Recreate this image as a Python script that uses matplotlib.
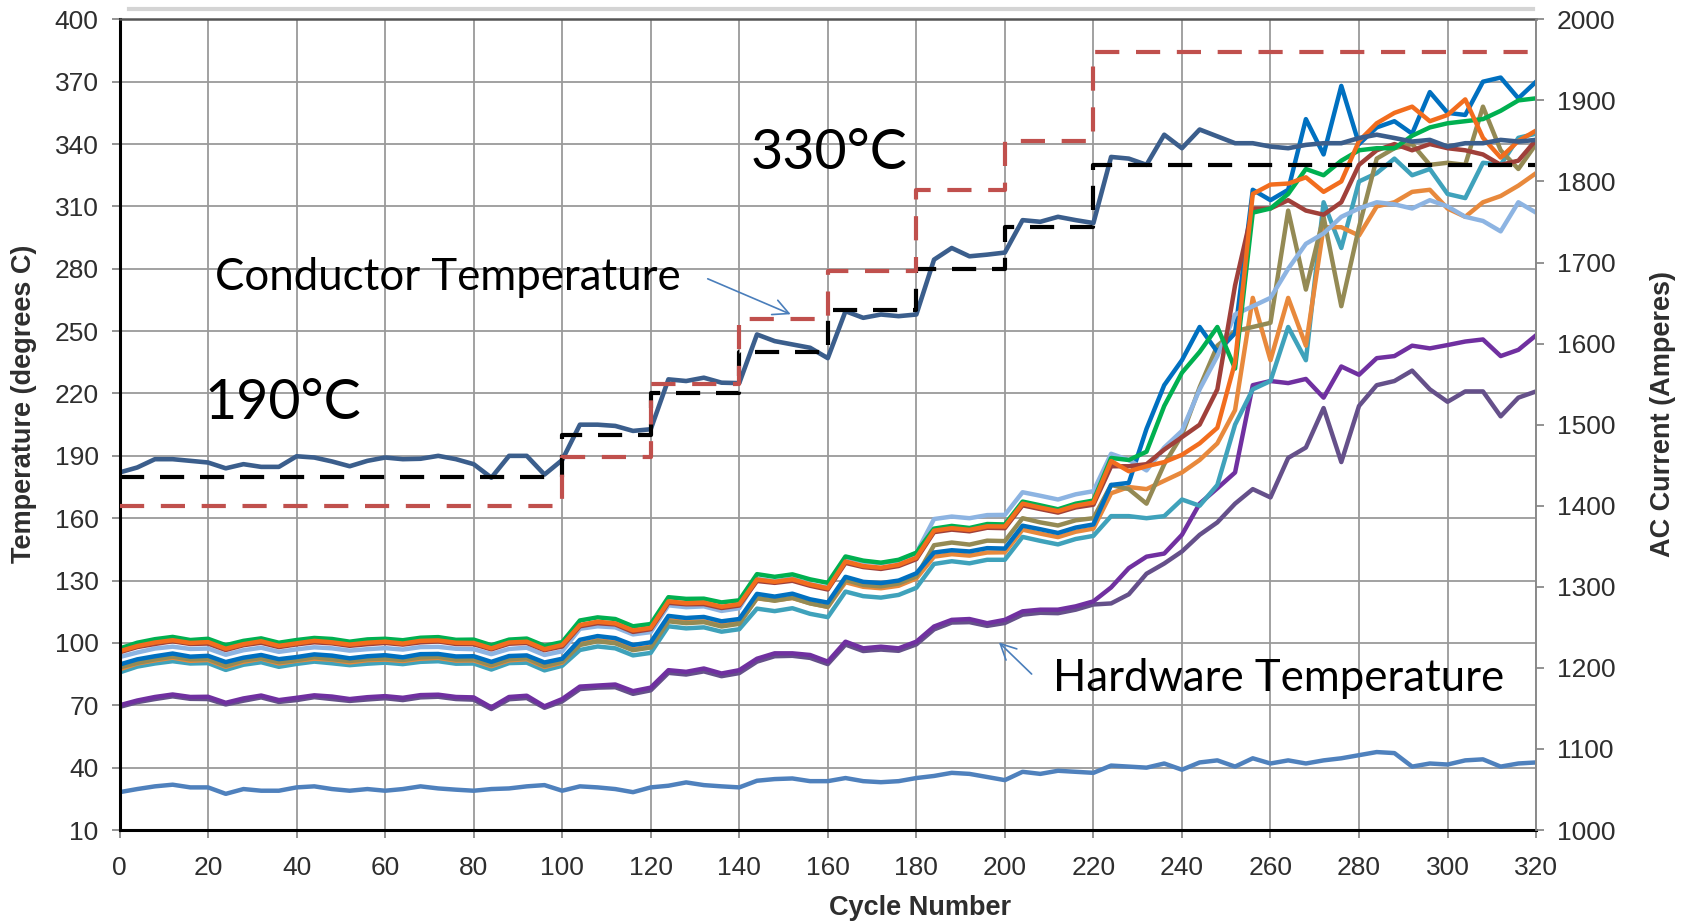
import matplotlib
matplotlib.use('Agg')
import matplotlib.pyplot as plt
from matplotlib.lines import Line2D

plt.rcParams['font.family'] = ['Liberation Sans', 'DejaVu Sans']

# cycle grid shared by every temperature trace
cycles = list(range(0, 321, 4))

# set points: target conductor temperature (deg C) and applied AC current (A)
step_edges = [0, 100, 120, 140, 160, 180, 200, 220, 320]
target_temp = [180, 200, 220, 240, 260, 280, 300, 330]
ac_current = [1400, 1460, 1550, 1630, 1690, 1790, 1850, 1960]

conductor = [182.0, 184.4, 188.4, 188.4, 187.6, 186.8, 184.0, 186.0, 184.7, 184.7,
             189.8, 189.2, 187.3, 185.0, 187.6, 189.2, 188.4, 188.6, 190.0, 188.4,
             186.0, 179.5, 190.0, 190.0, 181.0, 188.0, 205.0, 205.0, 204.4, 202.0,
             202.8, 226.8, 226.0, 227.6, 225.2, 225.0, 248.4, 245.2, 243.6, 242.0,
             237.0, 259.6, 256.4, 258.0, 257.2, 258.0, 284.4, 290.0, 286.0, 286.8,
             287.8, 303.4, 302.6, 305.0, 303.4, 302.0, 333.8, 333.0, 330.0, 344.5,
             338.0, 347.0, 343.7, 340.4, 340.4, 338.8, 338.0, 339.6, 340.4, 340.4,
             342.9, 344.5, 342.9, 341.2, 342.0, 338.8, 340.4, 340.4, 342.0, 341.2,
             342.0]

hw_orange = [96.0, 98.5, 100.2, 101.3, 100.0, 100.4, 97.2, 99.4, 100.8, 98.6,
             99.8, 101.0, 100.3, 99.2, 100.1, 100.6, 99.7, 101.0, 101.2, 100.1,
             100.0, 97.4, 100.2, 100.6, 97.0, 99.0, 108.6, 110.2, 109.4, 106.0,
             107.2, 120.0, 119.1, 119.4, 117.4, 118.6, 130.5, 129.4, 130.6, 128.1,
             126.3, 139.2, 137.0, 136.2, 137.6, 141.0, 154.0, 155.2, 154.4, 156.1,
             156.0, 167.0, 165.1, 163.4, 166.0, 167.5, 187.5, 182.6, 185.0, 187.0,
             190.5, 196.0, 203.5, 235.0, 316.0, 320.5, 321.0, 324.0, 317.0, 322.0,
             341.5, 350.0, 355.0, 358.0, 351.0, 354.0, 361.5, 343.0, 333.5, 341.5,
             346.5]

hw_green = [97.3, 100.1, 101.8, 102.9, 101.4, 102.0, 98.9, 101.0, 102.2, 100.1,
            101.4, 102.4, 101.9, 100.6, 101.7, 102.0, 101.3, 102.5, 102.8, 101.5,
            101.6, 98.9, 101.6, 102.1, 98.6, 100.4, 110.8, 112.3, 111.5, 108.0,
            109.1, 122.0, 121.2, 121.3, 119.5, 120.5, 133.1, 131.8, 133.0, 130.6,
            128.9, 141.6, 139.6, 138.6, 140.0, 143.4, 155.0, 156.3, 155.3, 157.2,
            157.0, 168.0, 166.2, 164.3, 167.0, 168.5, 189.0, 188.0, 192.0, 214.0,
            230.0, 240.0, 252.0, 232.0, 307.0, 309.0, 316.0, 328.0, 325.0, 332.0,
            337.0, 338.0, 338.0, 344.0, 348.0, 350.0, 351.0, 352.0, 356.0, 361.0,
            362.0]

hw_darkred = [95.5, 98.0, 99.5, 100.8, 99.5, 99.7, 96.6, 98.9, 100.1, 98.0,
              99.3, 100.3, 99.8, 98.6, 99.4, 100.0, 99.2, 100.3, 100.7, 99.5,
              99.4, 96.9, 99.6, 100.0, 96.5, 98.3, 108.0, 109.5, 108.9, 105.3,
              106.6, 119.3, 118.6, 118.7, 116.8, 118.0, 129.8, 128.9, 129.9, 127.5,
              125.7, 138.5, 136.5, 135.6, 137.0, 140.3, 153.3, 154.5, 153.7, 155.4,
              155.2, 166.2, 164.4, 162.7, 165.2, 166.5, 185.0, 185.0, 186.0, 193.0,
              199.0, 205.0, 222.0, 272.0, 309.0, 309.0, 313.0, 308.0, 306.0, 312.0,
              330.0, 337.0, 340.0, 337.0, 340.0, 338.0, 337.0, 335.0, 330.0, 332.0,
              342.0]

hw_lightblue = [93.2, 95.4, 97.3, 98.2, 97.1, 97.3, 94.3, 96.5, 97.7, 95.7,
                96.9, 97.9, 97.4, 96.3, 97.0, 97.5, 96.8, 98.0, 98.1, 97.2,
                97.0, 94.6, 97.1, 97.7, 94.2, 96.0, 106.8, 108.0, 107.5, 104.1,
                105.2, 118.1, 117.2, 117.6, 115.4, 116.7, 130.8, 129.6, 131.0, 128.3,
                126.6, 141.2, 139.1, 138.4, 139.6, 143.2, 159.6, 160.8, 160.0, 161.5,
                161.6, 172.5, 170.8, 169.0, 171.5, 173.0, 191.0, 188.0, 183.0, 194.0,
                202.0, 222.0, 238.0, 258.0, 262.0, 266.0, 280.0, 292.0, 297.0, 305.0,
                309.0, 312.0, 311.0, 309.0, 313.0, 310.0, 305.0, 303.0, 298.0, 312.0,
                307.0]

hw_blue = [89.6, 92.1, 93.6, 94.9, 93.4, 93.8, 90.8, 92.9, 94.2, 92.2,
           93.2, 94.5, 93.9, 92.6, 93.6, 94.1, 93.1, 94.6, 94.7, 93.5,
           93.6, 90.9, 93.7, 94.0, 90.6, 92.4, 101.5, 103.3, 102.3, 99.0,
           100.3, 113.0, 112.0, 112.5, 110.4, 111.5, 123.6, 122.3, 123.7, 121.0,
           119.4, 131.8, 129.4, 128.8, 130.0, 133.5, 143.5, 144.6, 144.0, 145.6,
           145.4, 156.4, 154.7, 152.9, 155.5, 157.0, 176.0, 177.0, 203.0, 224.0,
           236.0, 252.0, 240.0, 249.0, 318.0, 313.0, 318.0, 352.0, 335.0, 368.0,
           340.0, 348.0, 351.0, 345.0, 365.0, 355.0, 354.0, 370.0, 372.0, 362.0,
           370.0]

hw_olive = [88.2, 90.4, 92.1, 93.4, 92.1, 92.3, 89.0, 91.6, 92.7, 90.7,
            91.7, 93.1, 92.2, 91.3, 92.2, 92.5, 91.8, 93.0, 93.3, 92.0,
            92.1, 89.3, 92.1, 92.7, 88.9, 91.0, 99.0, 100.8, 99.8, 96.5,
            97.8, 110.4, 109.5, 110.0, 107.9, 109.2, 121.6, 120.3, 121.7, 119.0,
            117.4, 130.3, 127.9, 127.2, 128.6, 132.0, 147.0, 148.3, 147.3, 149.2,
            149.0, 160.0, 158.0, 156.5, 159.0, 160.0, 176.0, 174.0, 167.0, 186.0,
            200.0, 223.0, 243.0, 250.0, 252.0, 254.0, 308.0, 270.0, 305.0, 262.0,
            300.0, 333.0, 338.0, 340.0, 330.0, 331.0, 330.0, 358.0, 337.0, 328.0,
            340.0]

hw_orange2 = [87.3, 90.1, 91.6, 92.9, 91.4, 91.8, 88.5, 90.9, 92.4, 90.1,
              91.4, 92.4, 91.9, 90.6, 91.7, 92.0, 91.3, 92.4, 92.8, 91.5,
              91.6, 88.8, 91.6, 92.2, 88.4, 90.5, 99.5, 101.3, 100.4, 97.0,
              98.2, 111.0, 110.1, 110.4, 108.4, 109.7, 121.4, 120.5, 121.6, 119.1,
              117.3, 129.2, 127.0, 126.3, 127.5, 131.0, 141.5, 142.7, 142.0, 143.5,
              143.6, 154.5, 152.6, 150.9, 153.5, 155.0, 172.0, 175.0, 174.0, 178.0,
              182.0, 188.0, 196.0, 212.0, 266.0, 236.0, 266.0, 243.0, 300.0, 300.0,
              296.0, 310.0, 312.0, 317.0, 318.0, 309.0, 305.0, 312.0, 315.0, 320.0,
              326.0]

hw_teal = [85.8, 88.6, 90.1, 91.2, 90.1, 90.3, 87.0, 89.5, 90.7, 88.5,
           89.9, 91.0, 90.2, 89.3, 90.0, 90.5, 89.8, 90.9, 91.2, 90.0,
           90.1, 87.2, 90.3, 90.5, 86.8, 89.0, 96.6, 98.3, 97.4, 94.0,
           95.2, 108.0, 107.0, 107.5, 105.4, 106.6, 116.5, 115.3, 116.7, 114.0,
           112.4, 124.7, 122.5, 121.8, 123.1, 126.5, 138.0, 139.3, 138.3, 140.0,
           140.0, 151.0, 149.1, 147.4, 150.0, 151.5, 161.0, 161.0, 160.0, 161.0,
           169.0, 166.0, 176.0, 205.0, 222.0, 226.0, 252.0, 236.0, 312.0, 290.0,
           322.0, 326.0, 333.0, 325.0, 328.0, 316.0, 314.0, 331.0, 330.0, 343.0,
           345.0]

hw_purple = [70.0, 72.3, 74.0, 75.2, 74.0, 74.1, 71.2, 73.3, 74.7, 72.5,
             73.6, 74.8, 74.2, 73.0, 73.9, 74.4, 73.6, 74.9, 75.1, 74.0,
             73.8, 69.0, 74.0, 74.6, 69.5, 73.0, 79.0, 79.5, 80.0, 76.8,
             78.5, 86.9, 86.1, 87.7, 85.3, 86.9, 92.4, 95.0, 95.0, 94.2,
             91.0, 100.6, 97.4, 98.2, 97.4, 100.6, 107.9, 111.1, 111.5, 109.5,
             111.1, 115.2, 116.0, 116.0, 117.6, 120.0, 126.7, 136.0, 141.5, 143.0,
             152.0, 167.0, 174.4, 182.0, 224.0, 226.0, 225.0, 227.0, 218.0, 233.0,
             229.0, 237.0, 238.0, 243.0, 241.7, 243.3, 245.0, 246.0, 238.0, 241.0,
             248.0]

hw_purple2 = [69.2, 71.5, 73.0, 74.3, 73.1, 73.0, 70.4, 72.2, 73.8, 71.6,
              72.5, 73.9, 73.0, 72.1, 72.8, 73.4, 72.5, 73.8, 74.1, 73.0,
              72.7, 68.2, 72.9, 73.5, 68.8, 71.9, 77.8, 78.5, 78.7, 75.5,
              77.2, 85.6, 84.8, 86.3, 84.0, 85.5, 91.0, 93.6, 93.8, 92.8,
              89.8, 99.2, 96.1, 96.8, 96.2, 99.3, 106.5, 109.8, 110.0, 108.2,
              109.6, 113.6, 114.5, 114.3, 116.0, 118.5, 119.0, 123.4, 133.3, 138.2,
              144.0, 152.0, 158.0, 167.0, 174.0, 170.0, 189.0, 194.0, 213.0, 187.0,
              214.0, 224.0, 226.0, 231.0, 222.0, 216.0, 221.0, 221.0, 209.0, 218.0,
              221.0]

hw_ambient = [28.2, 29.7, 31.0, 31.8, 30.5, 30.5, 27.4, 29.7, 28.9, 28.9,
              30.5, 31.0, 29.7, 28.9, 29.7, 28.9, 29.7, 31.0, 30.0, 29.4,
              28.9, 29.7, 30.0, 31.0, 31.6, 28.9, 31.0, 30.5, 29.7, 28.2,
              30.5, 31.3, 32.9, 31.6, 31.0, 30.5, 33.7, 34.5, 34.8, 33.5,
              33.5, 35.0, 33.5, 33.0, 33.5, 35.0, 36.0, 37.5, 37.0, 35.5,
              34.0, 38.0, 37.0, 38.5, 38.0, 37.5, 41.0, 40.5, 40.0, 42.0,
              39.0, 42.5, 43.5, 40.5, 44.5, 42.0, 43.5, 42.0, 43.5, 44.5,
              46.0, 47.5, 47.0, 40.5, 42.0, 41.5, 43.5, 44.0, 40.5, 42.0,
              42.5]

# drawing order: back to front
hw_series = [
    (hw_ambient, '#4f81bd'),
    (hw_purple2, '#65508a'),
    (hw_purple, '#7030a0'),
    (hw_teal, '#3fa2bb'),
    (hw_orange2, '#e8893c'),
    (hw_olive, '#948a54'),
    (hw_blue, '#0070c0'),
    (hw_lightblue, '#8db4e2'),
    (hw_darkred, '#a0403a'),
    (hw_green, '#00b050'),
    (hw_orange, '#f26d1e'),
]

fig = plt.figure(figsize=(16.88, 9.21), dpi=100)
ax = fig.add_axes([0.0708, 0.0988, 0.8392, 0.8802])

for values, color in hw_series:
    ax.plot(cycles, values, color=color, linewidth=3.2, solid_joinstyle='round')

ax.plot(cycles, conductor, color='#3b5e8c', linewidth=3.3, solid_joinstyle='round')
ax.step(step_edges, target_temp + [target_temp[-1]], where='post', color='black',
        linewidth=3.0, linestyle=(0, (5.8, 3.8)))

ax.set_xlim(0, 320)
ax.set_ylim(10, 400)
ax.set_xticks(range(0, 321, 20))
ax.set_yticks(range(10, 401, 30))
ax.grid(True, color='#9a9a9a', linewidth=1.3)
ax.set_axisbelow(True)

ax.tick_params(axis='both', labelsize=19, labelcolor='#2e2e2e', color='#808080',
               length=6, width=1.2)
ax.tick_params(axis='x', pad=13)
ax.tick_params(axis='y', pad=9)

for side in ['left', 'bottom']:
    ax.spines[side].set_linewidth(2.2)
    ax.spines[side].set_color('black')
ax.spines['top'].set_color('#555555')
ax.spines['top'].set_linewidth(1.8)
ax.spines['right'].set_color('#8a8a8a')
ax.spines['right'].set_linewidth(1.2)

ax.set_xlabel('Cycle Number', fontsize=19.5, fontweight='bold', color='#2e2e2e',
              va='center')
ax.xaxis.set_label_coords(0.5654, -0.0956)
ax.set_ylabel('Temperature (degrees C)', fontsize=19.5, fontweight='bold',
              color='#2e2e2e', va='center')
ax.yaxis.set_label_coords(-0.0676, 0.526)

# current on the right-hand axis
ax2 = ax.twinx()
ax2.step(step_edges, ac_current + [ac_current[-1]], where='post', color='#c0504d',
         linewidth=3.0, linestyle=(0, (5.8, 4.0)))
ax2.set_ylim(1000, 2000)
ax2.set_yticks(range(1000, 2001, 100))
ax2.tick_params(axis='y', labelsize=19, labelcolor='#2e2e2e', color='#808080',
                length=6, width=1.2, pad=9)
for side in ['left', 'bottom', 'top']:
    ax2.spines[side].set_visible(False)
ax2.spines['right'].set_color('#8a8a8a')
ax2.spines['right'].set_linewidth(1.2)
ax2.set_ylabel('AC Current (Amperes)', fontsize=19.5, fontweight='bold',
               color='#2e2e2e', rotation=90, va='center')
ax2.yaxis.set_label_coords(1.0899, 0.5126)

# annotations
note_font = ['Lato', 'DejaVu Sans']
ax.text(19.2, 215, '190°C', fontsize=40, family=note_font, va='center', ha='left')
ax.text(142.5, 335.3, '330°C', fontsize=40, family=note_font, va='center', ha='left')
ax.text(21.6, 275.7, 'Conductor Temperature', fontsize=31.5, family=note_font,
        va='center', ha='left')
ax.text(210.8, 83, 'Hardware Temperature', fontsize=31.5, family=note_font,
        va='center', ha='left')
arrow = dict(arrowstyle='->', color='#4a7ebb', lw=1.2, mutation_scale=28)
ax.annotate('', xy=(152.2, 257.6), xytext=(132.3, 275.7), arrowprops=arrow)
ax.annotate('', xy=(198.2, 101.2), xytext=(206.5, 84.1), arrowprops=arrow)

# light band above the plot area
fig.add_artist(Line2D([0.0765, 0.908], [0.9905, 0.9905], color='#d4d4d4', linewidth=3))

fig.savefig('out.png', dpi=100)
